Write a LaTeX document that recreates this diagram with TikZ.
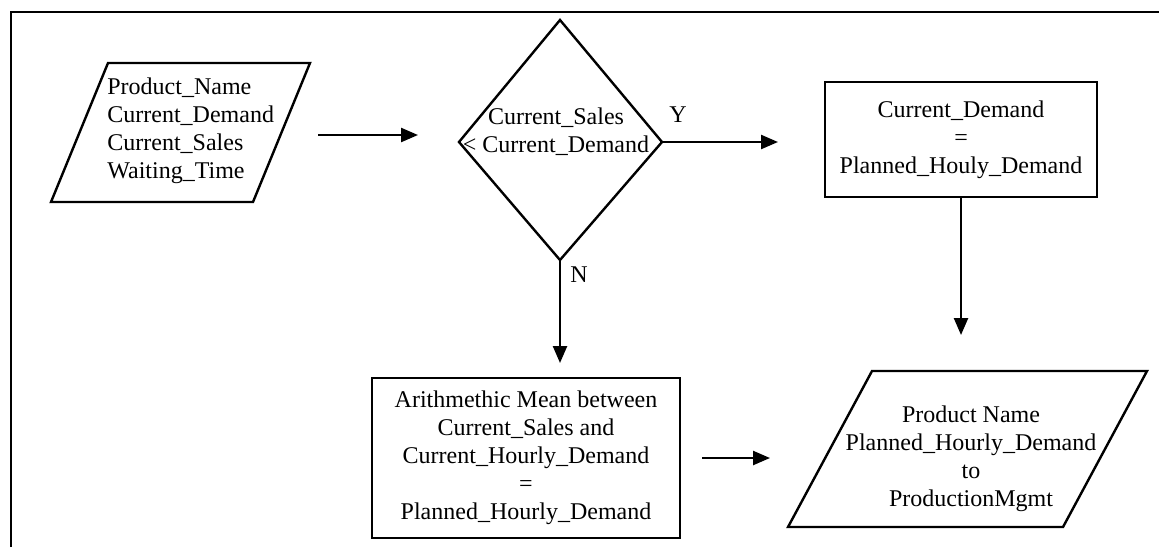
\documentclass[tikz,border=0pt]{standalone}
\usepackage{fontspec}
\setmainfont{Liberation Serif}
\usetikzlibrary{arrows.meta}
\begin{document}
\begin{tikzpicture}[x=0.5pt,y=-0.5pt,
  outline/.style={line width=1.2pt, line join=miter},
  flowbox/.style={draw, line width=1.2pt, rectangle, inner sep=0pt, align=center,
    font=\fontsize{12}{14}\selectfont},
  txt/.style={font=\fontsize{12}{14}\selectfont, align=center, inner sep=0pt},
  arr/.style={line width=1.2pt, -{Triangle[length=8.5pt,width=7pt]}}]
\useasboundingbox (0,0) rectangle (1159,547);

% open frame (left and top sides)
\draw[line width=1.4pt] (11,547) -- (11,12) -- (1159,12);

% input data
\coordinate (in1) at (108,63);
\coordinate (in2) at (310,63);
\coordinate (in3) at (253,202);
\coordinate (in4) at (51,202);
\draw[outline] (in1) -- (in2) -- (in3) -- (in4) -- cycle;
\node[txt, align=left, anchor=west] (input) at (107,131)
  {Product\_Name\\Current\_Demand\\Current\_Sales\\Waiting\_Time};

% decision
\coordinate (dt) at (560,20);
\coordinate (dr) at (662,142);
\coordinate (db) at (560,260);
\coordinate (dl) at (459,142);
\draw[outline] (dt) -- (dr) -- (db) -- (dl) -- cycle;
\node[txt] (cond) at (556,132) {Current\_Sales\\< Current\_Demand};
\node[txt] (ylab) at (678,115) {Y};
\node[txt] (nlab) at (579,275) {N};

% process boxes
\node[flowbox, minimum width=136pt, minimum height=57.5pt] (yes) at (961,139.5)
  {Current\_Demand\\=\\Planned\_Houly\_Demand};
\node[flowbox, minimum width=154pt, minimum height=80pt] (no) at (526,458)
  {Arithmethic Mean between\\Current\_Sales and\\Current\_Hourly\_Demand\\=\\Planned\_Hourly\_Demand};

% output data
\coordinate (out1) at (872,371);
\coordinate (out2) at (1147,371);
\coordinate (out3) at (1063,527);
\coordinate (out4) at (788,527);
\draw[outline] (out1) -- (out2) -- (out3) -- (out4) -- cycle;
\node[txt] (output) at (971,459)
  {Product Name\\Planned\_Hourly\_Demand\\to\\ProductionMgmt};

% connectors
\coordinate (a1s) at (318,135);
\coordinate (a1e) at (418,135);
\coordinate (a2e) at (778,142);
\coordinate (a3e) at (961,335);
\coordinate (a4e) at (560,363);
\coordinate (a5s) at (702,458);
\coordinate (a5e) at (770,458);
\draw[arr] (a1s) -- (a1e);
\draw[arr] (dr) -- (a2e);
\draw[arr] (yes.south) -- (a3e);
\draw[arr] (db) -- (a4e);
\draw[arr] (a5s) -- (a5e);
\end{tikzpicture}
\end{document}
